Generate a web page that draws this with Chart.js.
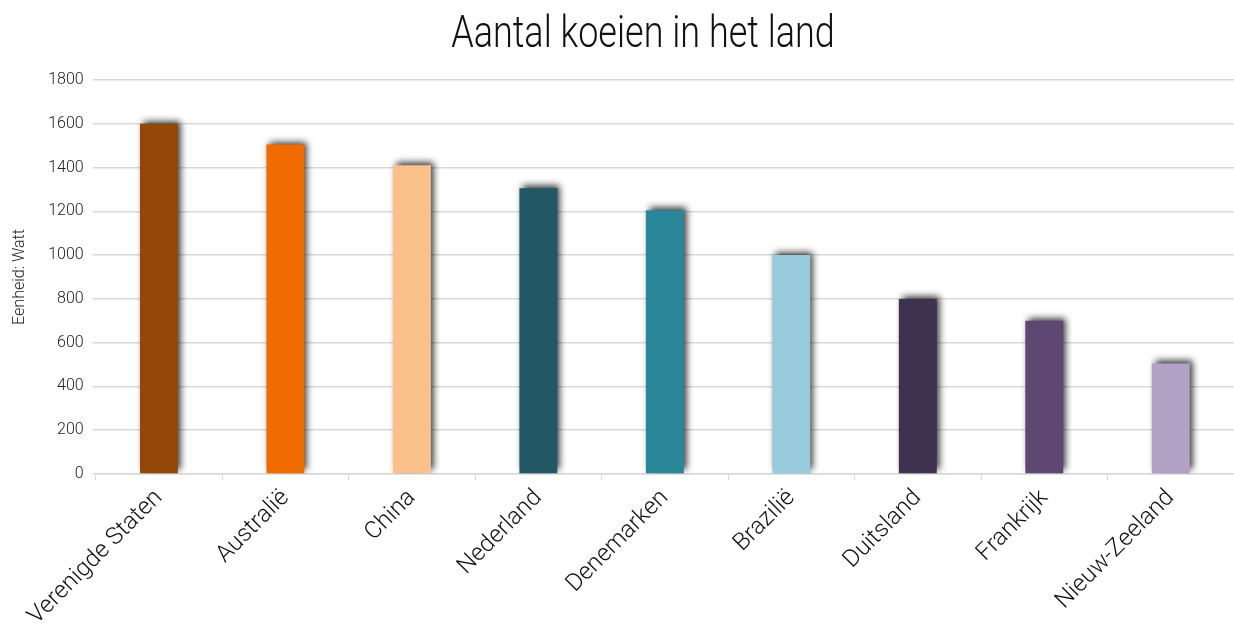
<!DOCTYPE html>
<html>
<head>
<meta charset="utf-8">
<script src="https://cdn.jsdelivr.net/npm/chart.js@4"></script>
<style>
  html, body { margin: 0; padding: 0; background: #fff; }
  #wrap { width: 1234px; height: 627px; }
</style>
</head>
<body>
<div id="wrap"><canvas id="myChart"></canvas></div>
<script>
var titel = 'Aantal koeien in het land';
var landen = ['Verenigde Staten', 'Australië', 'China', 'Nederland', 'Denemarken', 'Brazilië', 'Duitsland', 'Frankrijk', 'Nieuw-Zeeland'];
var aantallen = [1600, 1505, 1410, 1305, 1205, 1000, 800, 700, 505];
var kleuren = ['#934709', '#F26B00', '#FBC18D', '#225864', '#2A879A', '#97CADB', '#3F3150', '#5E4873', '#B3A2C6'];

var fontFam = 'Roboto, sans-serif';

// soft shadow behind the bars
var barShadow = {
  id: 'barShadow',
  beforeDatasetsDraw: function(chart) {
    var c = chart.ctx;
    c.save();
    c.shadowColor = 'rgba(0,0,0,0.8)';
    c.shadowBlur = 7;
    c.shadowOffsetX = 3;
    c.shadowOffsetY = -3;
  },
  afterDatasetsDraw: function(chart) {
    chart.ctx.restore();
  }
};

// condensed looking title
var smalTitel = {
  id: 'smalTitel',
  afterDraw: function(chart) {
    var c = chart.ctx;
    c.save();
    c.font = '300 45px ' + fontFam;
    c.fillStyle = '#111';
    c.textAlign = 'center';
    c.textBaseline = 'alphabetic';
    c.translate(643, 47);
    c.scale(0.8, 1);
    c.fillText(titel, 0, 0);
    c.restore();
  }
};

var ctx = document.getElementById('myChart').getContext('2d');
var myChart = new Chart(ctx, {
  type: 'bar',
  data: {
    labels: landen,
    datasets: [{
      data: aantallen,
      backgroundColor: kleuren,
      barPercentage: 0.3,
      categoryPercentage: 1
    }]
  },
  options: {
    responsive: true,
    maintainAspectRatio: false,
    animation: false,
    layout: { padding: { left: 10, right: 0, top: 80, bottom: 0 } },
    plugins: {
      legend: { display: false },
      tooltip: { enabled: false },
      title: { display: false }
    },
    scales: {
      y: {
        min: 0,
        max: 1800,
        ticks: {
          stepSize: 200,
          color: '#222',
          font: { family: fontFam, size: 16, weight: '300' },
          padding: 9,
          callback: function(v) { return String(v); }
        },
        grid: { color: '#d9d9d9', lineWidth: 1.5, tickLength: 3 },
        border: { display: false },
        title: {
          display: true,
          text: 'Eenheid: Watt',
          color: '#222',
          font: { family: fontFam, size: 16, weight: '300' },
          padding: { top: 0, bottom: 10 }
        }
      },
      x: {
        offset: true,
        afterFit: function(s) { s.height = 153; },
        ticks: { color: '#111', font: { family: fontFam, size: 24, weight: '300' }, maxRotation: 45, minRotation: 45, padding: 4 },
        grid: { drawOnChartArea: false, color: '#d9d9d9', tickLength: 6, offset: true },
        border: { color: '#d9d9d9', width: 1.5 }
      }
    }
  },
  plugins: [barShadow, smalTitel]
});
</script>
</body>
</html>
